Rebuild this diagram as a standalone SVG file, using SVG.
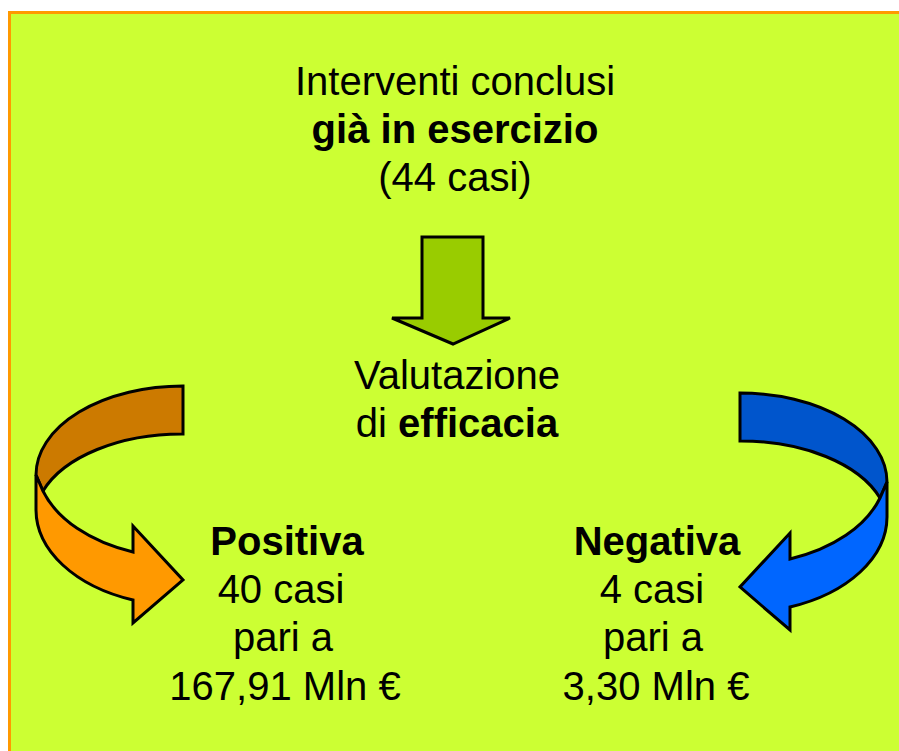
<svg xmlns="http://www.w3.org/2000/svg" width="899" height="751" viewBox="0 0 899 751">
<style>
  text { font-family: "Liberation Sans", Arial, sans-serif; font-size: 40px; fill: #000; text-anchor: middle; }
  .b { font-weight: bold; }
  .shape { stroke: #000; stroke-width: 3; stroke-linejoin: miter; }
</style>
<rect x="0" y="0" width="899" height="751" fill="#ffffff"/>
<rect id="panel" x="9.5" y="12.5" width="900" height="760" fill="#CCFF33" stroke="#FF9900" stroke-width="3"/>

<g id="top-text">
  <text x="455" y="95">Interventi conclusi</text>
  <text x="455" y="143" class="b">già in esercizio</text>
  <text x="455" y="191">(44 casi)</text>
</g>

<g id="connectors">
  <g id="down-arrow">
    <path class="shape" fill="#99CC00" d="M422,237 L483,237 L483,318 L510,318 L453,344 L392,318 L422,318 Z"/>
  </g>
  <g id="left-arrow">
    <path class="shape" fill="#CC7A00" d="M183,386 A147,89 0 0,0 36,475 L43,491 A147,85 0 0,1 183,434 Z"/>
    <path class="shape" fill="#FF9900" d="M36,475 L36,510 A147,96 0 0,0 133,600 L133,623 L183,580 L133,526 L133,552 A147,96 0 0,1 43,491 Z"/>
  </g>
  <g id="right-arrow">
    <path class="shape" fill="#0055CC" d="M740,393 A147,89 0 0,1 887,482 L880,498 A147,85 0 0,0 740,441 Z"/>
    <path class="shape" fill="#0066FF" d="M887,482 L887,517 A147,96 0 0,1 790,607 L790,630 L740,587 L790,533 L790,559 A147,96 0 0,0 880,498 Z"/>
  </g>
</g>

<g id="center-text">
  <text x="457" y="389">Valutazione</text>
  <text x="457" y="437">di <tspan class="b">efficacia</tspan></text>
</g>

<g id="positive">
  <text x="287" y="555" class="b">Positiva</text>
  <text x="281" y="603">40 casi</text>
  <text x="283" y="651">pari a</text>
  <text x="285" y="700">167,91 Mln €</text>
</g>

<g id="negative">
  <text x="657" y="555" class="b">Negativa</text>
  <text x="652" y="603">4 casi</text>
  <text x="653" y="651">pari a</text>
  <text x="656" y="700">3,30 Mln €</text>
</g>
</svg>
